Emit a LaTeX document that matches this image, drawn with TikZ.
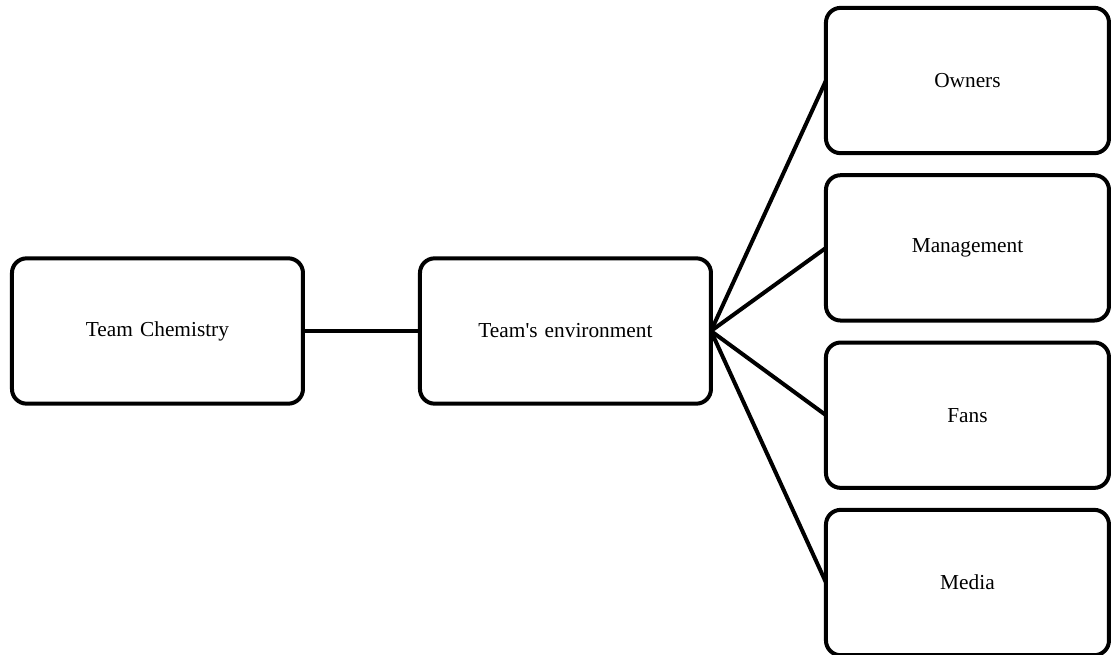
\documentclass[tikz,border=0pt]{standalone}
\usepackage{fontspec}
\setmainfont{Liberation Serif}
\usetikzlibrary{positioning}

\begin{document}
\begin{tikzpicture}[
    node distance=16.5pt and 87.75pt,
    topic/.style={rectangle, rounded corners=11pt, draw=black, line width=3pt, outer sep=0pt, text width=200pt, align=center, minimum width=218.25pt, minimum height=109pt, font=\fontsize{16}{19}\selectfont},
    factor/.style={topic, minimum width=212.25pt, text width=195pt},
    link/.style={line width=3pt}
]
\useasboundingbox (0,0) rectangle (834pt,-491.25pt);

\node[topic] (chemistry) at (118.1pt,-248.25pt) {Team Chemistry};
\node[topic, right=of chemistry] (environment) {Team\textquotesingle s environment};

\node[factor] (owners) at (725.6pt,-60.4pt) {Owners};
\node[factor, below=of owners] (management) {Management};
\node[factor, below=of management] (fans) {Fans};
\node[factor, below=of fans] (media) {Media};

\draw[link] (chemistry) -- (environment);
\foreach \target in {owners, management, fans, media}
    \draw[link] (environment.east) -- (\target.west);

\end{tikzpicture}
\end{document}
